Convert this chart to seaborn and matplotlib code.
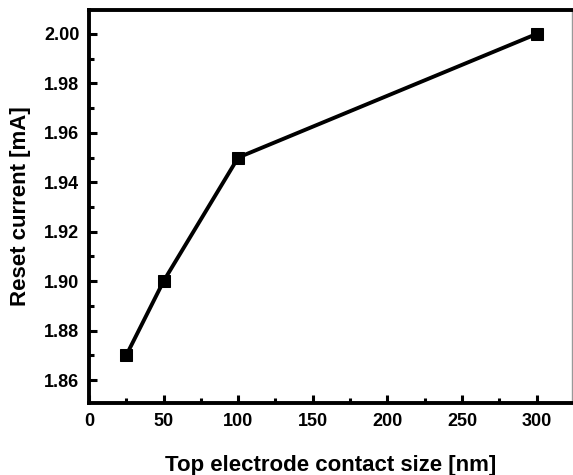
import matplotlib
matplotlib.use("Agg")
import matplotlib.pyplot as plt
import seaborn as sns
import pandas as pd
from matplotlib.ticker import MultipleLocator

sizes = [25, 50, 100, 300]
reset_current = [1.87, 1.90, 1.95, 2.00]

df = pd.DataFrame({"size": sizes, "current": reset_current})

sns.set_theme(style="ticks")
plt.rcParams['font.family'] = ['Liberation Sans', 'DejaVu Sans']
plt.rcParams['font.weight'] = 'bold'
plt.rcParams['text.color'] = 'black'
plt.rcParams['axes.labelcolor'] = 'black'
plt.rcParams['xtick.color'] = 'black'
plt.rcParams['ytick.color'] = 'black'

fig = plt.figure(figsize=(5.73, 4.75), dpi=100)
ax = fig.add_axes([0.1553, 0.1516, 0.8437, 0.8274])

sns.lineplot(data=df, x="size", y="current", ax=ax, color="black",
             linewidth=2.8, marker="s", markersize=8, markeredgecolor="black",
             markerfacecolor="black")

ax.set_xlim(0, 324)
ax.set_ylim(1.8507, 2.0097)
ax.xaxis.set_major_locator(MultipleLocator(50))
ax.xaxis.set_minor_locator(MultipleLocator(25))
ax.yaxis.set_major_locator(MultipleLocator(0.02))
ax.yaxis.set_minor_locator(MultipleLocator(0.01))
ax.yaxis.set_major_formatter(matplotlib.ticker.FormatStrFormatter('%.2f'))

ax.tick_params(axis='both', which='major', direction='in', length=6, width=2.2,
               labelsize=13, pad=7, top=False, right=False,
               color='black', labelcolor='black')
ax.tick_params(axis='both', which='minor', direction='in', length=3.5, width=2.2,
               top=False, right=False, color='black')
for lab in ax.get_xticklabels() + ax.get_yticklabels():
    lab.set_fontweight('bold')

for side in ['left', 'bottom', 'top']:
    ax.spines[side].set_linewidth(2.8)
    ax.spines[side].set_color('black')
ax.spines['right'].set_linewidth(1)
ax.spines['right'].set_color('#999999')

ax.set_xlabel("Top electrode contact size [nm]", fontsize=16, fontweight='bold',
              labelpad=18, color='black')
ax.set_ylabel("Reset current [mA]", fontsize=16, fontweight='bold',
              labelpad=9, color='black')

fig.savefig("out.png", dpi=100)
